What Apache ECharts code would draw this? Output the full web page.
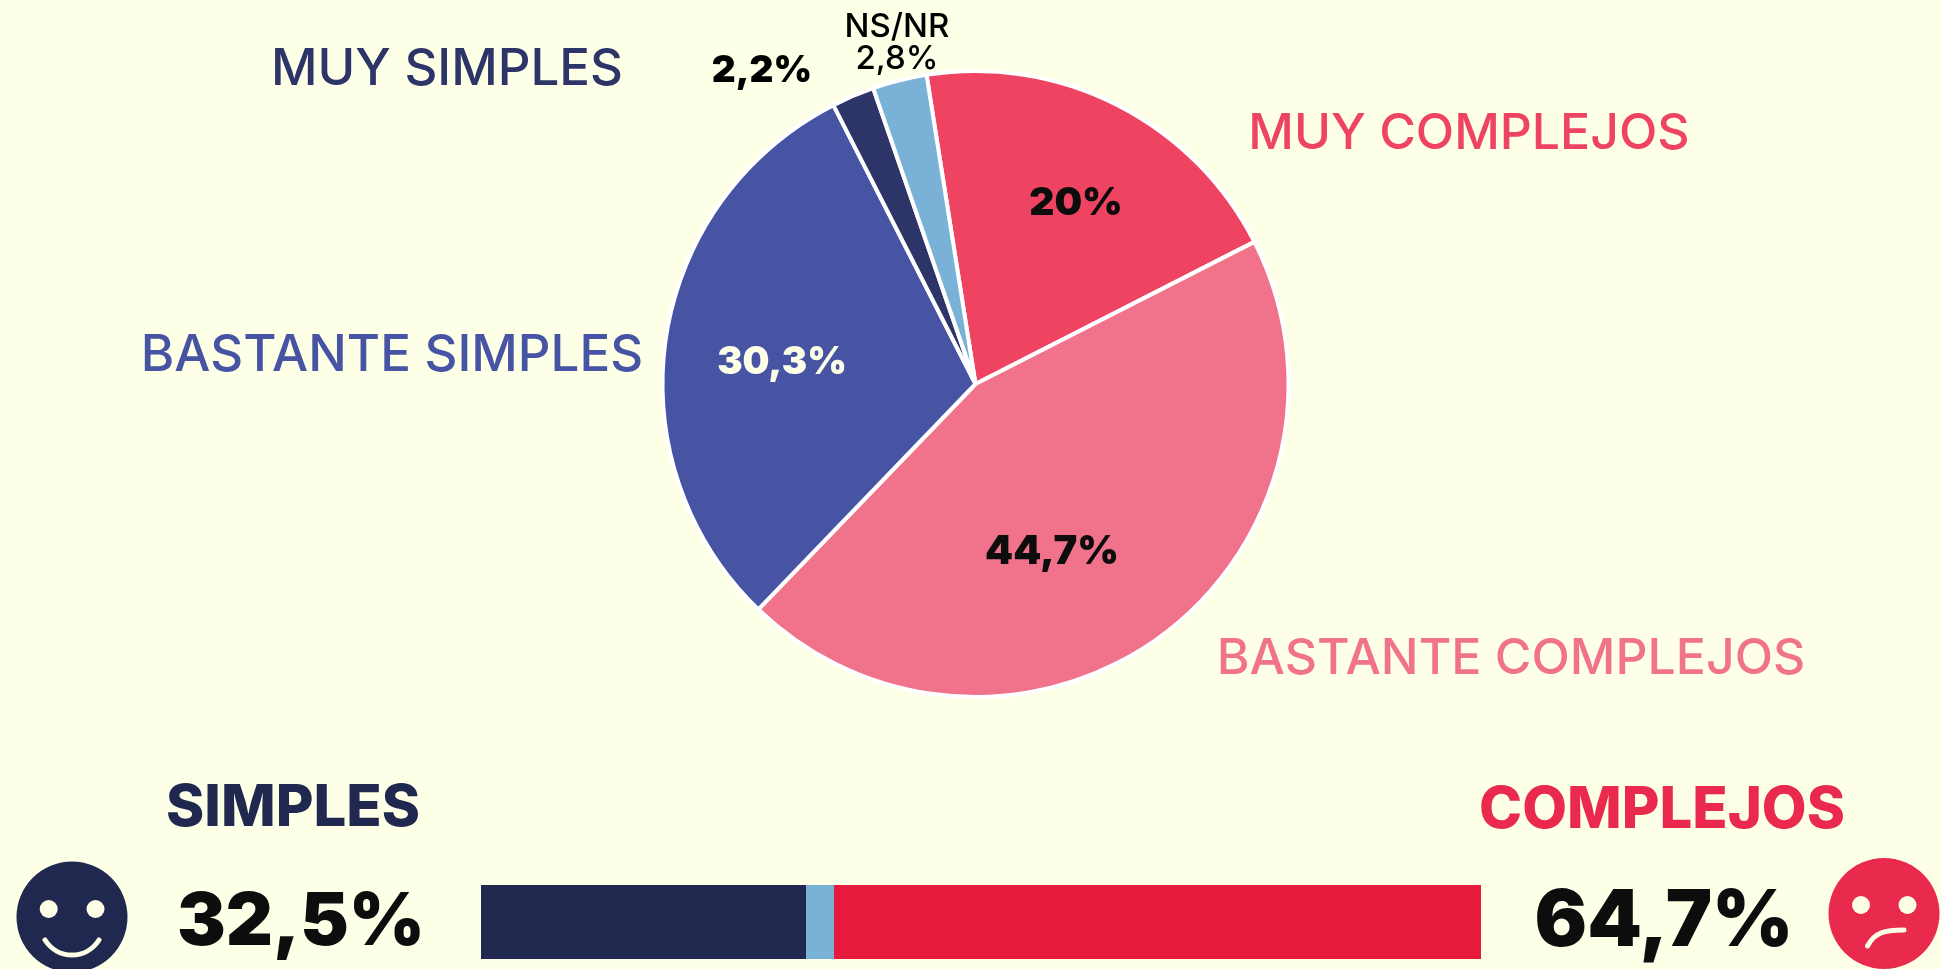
<!DOCTYPE html>
<html><head><meta charset="utf-8">
<style>html,body{margin:0;padding:0;background:#FDFFE7;overflow:hidden}#c{width:1941px;height:969px}</style>
<script src="https://cdn.jsdelivr.net/npm/echarts@6/dist/echarts.min.js"></script>
</head><body><div id="c"></div>
<script>
const pieCategories = ['MUY COMPLEJOS','BASTANTE COMPLEJOS','BASTANTE SIMPLES','MUY SIMPLES','NS/NR'];
const pieValues = [20, 44.7, 30.3, 2.2, 2.8];
const pieColors = ['#EE4461','#F1738B','#4753A3','#2D3468','#7AB2D7'];
const barCategories = ['SIMPLES','NS/NR','COMPLEJOS'];
const barValues = [32.5, 2.8, 64.7];
const barColors = ['#20284F','#7AB2D7','#E61A3B'];
const FONT = 'Inter';
const fmt = v => String(v).replace('.', ',') + '%';

const labelPos = [
  {x:1076,y:203,size:39,weight:900,color:'#0D0D0D'},
  {x:1052,y:552,size:40,weight:900,color:'#0D0D0D'},
  {x:782,y:363,size:38,weight:900,color:'#FDFFE7'},
  {x:762,y:71,size:37,weight:900,color:'#000000'},
  {x:897,y:43,size:33,weight:500,color:'#000000'}
];
const pieData = pieCategories.map((n,i)=>({
  name:n, value:pieValues[i],
  itemStyle:{color:pieColors[i]},
  label:{
    formatter: n==='NS/NR' ? n+'\n'+fmt(pieValues[i]) : fmt(pieValues[i]),
    fontSize:labelPos[i].size, fontWeight:labelPos[i].weight, color:labelPos[i].color,
    lineHeight:32
  }
}));
const T=(text,x,y,size,weight,fill)=>({type:'text',x,y,silent:true,style:{text,fill,fontSize:size,fontWeight:weight,fontFamily:FONT,align:'center',verticalAlign:'middle'}});
const face=(cx,cy,r,col,ex1,ex2,ey,mouth)=>[
  {type:'circle',shape:{cx,cy,r},style:{fill:col},silent:true},
  {type:'circle',shape:{cx:ex1,cy:ey,r:9},style:{fill:'#FDFFE7'},silent:true},
  {type:'circle',shape:{cx:ex2,cy:ey,r:9},style:{fill:'#FDFFE7'},silent:true},
  {type:'bezierCurve',shape:mouth,silent:true,style:{fill:null,stroke:'#FDFFE7',lineWidth:5,lineCap:'round'}}
];
const chart = echarts.init(document.getElementById('c'),null,{renderer:'canvas'});
chart.setOption({
  backgroundColor:'#FDFFE7',
  animation:false,
  textStyle:{fontFamily:FONT},
  grid:{left:481,top:885,width:1000,height:74,containLabel:false},
  xAxis:{type:'value',min:0,max:100,show:false},
  yAxis:{type:'category',data:['total'],show:false},
  series:[
    {type:'pie',center:[975.5,384],radius:[0,313],startAngle:99,clockwise:true,
     data:pieData,
     itemStyle:{borderColor:'#FFFFFF',borderWidth:4},
     label:{show:true,position:'inside',fontFamily:FONT,align:'center',verticalAlign:'middle'},
     labelLine:{show:false},
     emphasis:{disabled:true},
     labelLayout:p=>({x:labelPos[p.dataIndex].x,y:labelPos[p.dataIndex].y,align:'center',verticalAlign:'middle',hideOverlap:false})
    },
    ...barCategories.map((n,i)=>({type:'bar',name:n,stack:'t',barWidth:'100%',data:[barValues[i]],itemStyle:{color:barColors[i]},silent:true}))
  ],
  graphic:{elements:[
    T('MUY SIMPLES',447,70,51,500,'#2D3468'),
    T('BASTANTE SIMPLES',392,356,51,500,'#4753A3'),
    T('MUY COMPLEJOS',1469,134,50,500,'#EE4461'),
    T('BASTANTE COMPLEJOS',1511,659,50,500,'#F1738B'),
    T('SIMPLES',293,809,58,800,'#20284F'),
    T('COMPLEJOS',1662,811,58,800,'#E92A4C'),
    T(fmt(barValues[0]),301,923,73,900,'#0D0D0D'),
    T(fmt(barValues[2]),1664,923,78,900,'#0D0D0D'),
    ...face(72,917,55.5,'#20284F',48.7,95.5,909,{x1:45,y1:940,cpx1:58,cpy1:960,cpx2:86,cpy2:960,x2:99,y2:940}),
    ...face(1884,913.5,55.5,'#E92A4C',1861,1907.5,905,{x1:1867.5,y1:946,cpx1:1875,cpy1:932,cpx2:1885,cpy2:930,x2:1904,y2:930})
  ]}
});
</script></body></html>
